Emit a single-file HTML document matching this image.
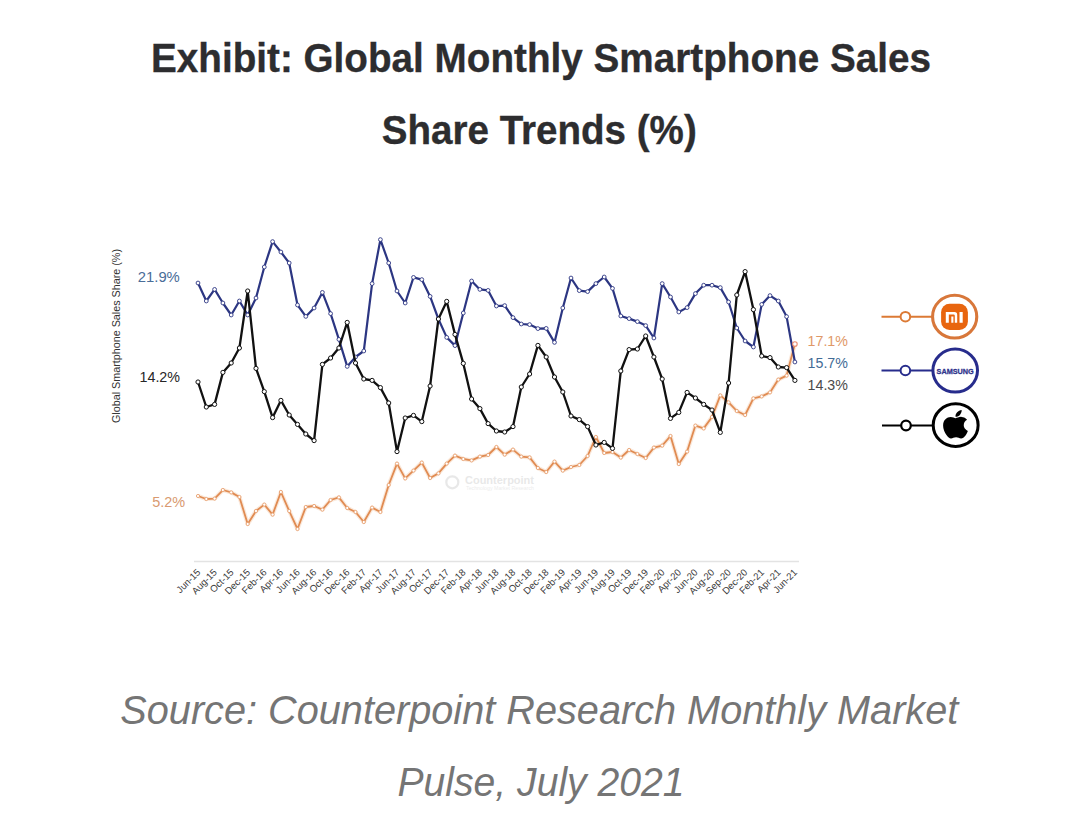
<!DOCTYPE html>
<html><head><meta charset="utf-8"><style>
html,body{margin:0;padding:0;background:#fff;width:1080px;height:820px;overflow:hidden}
svg{display:block}
</style></head><body>
<svg width="1080" height="820" viewBox="0 0 1080 820">
<g font-family="Liberation Sans, sans-serif" fill="#2d2d2f" stroke="#2d2d2f" stroke-width="0.35" font-weight="bold" font-size="41.5" text-anchor="middle">
<text x="541" y="71.5" textLength="780" lengthAdjust="spacingAndGlyphs">Exhibit: Global Monthly Smartphone Sales</text>
<text x="539.25" y="143.7" textLength="315" lengthAdjust="spacingAndGlyphs">Share Trends (%)</text>
</g>
<g font-family="Liberation Sans, sans-serif" fill="#757575" font-style="italic" font-size="40.5" text-anchor="middle">
<text x="539.3" y="723.5" textLength="838" lengthAdjust="spacingAndGlyphs">Source: Counterpoint Research Monthly Market</text>
<text x="541" y="796.3" textLength="287" lengthAdjust="spacingAndGlyphs">Pulse, July 2021</text>
</g>
<line x1="194" y1="561.5" x2="799" y2="561.5" stroke="#e3e3e3" stroke-width="1.5"/>
<g font-family="Liberation Sans, sans-serif" fill="#3a3a3a" font-size="9.6"><text x="201.0" y="573" transform="rotate(-45 201.0 573)" text-anchor="end">Jun-15</text><text x="217.6" y="573" transform="rotate(-45 217.6 573)" text-anchor="end">Aug-15</text><text x="234.2" y="573" transform="rotate(-45 234.2 573)" text-anchor="end">Oct-15</text><text x="250.7" y="573" transform="rotate(-45 250.7 573)" text-anchor="end">Dec-15</text><text x="267.3" y="573" transform="rotate(-45 267.3 573)" text-anchor="end">Feb-16</text><text x="283.9" y="573" transform="rotate(-45 283.9 573)" text-anchor="end">Apr-16</text><text x="300.5" y="573" transform="rotate(-45 300.5 573)" text-anchor="end">Jun-16</text><text x="317.1" y="573" transform="rotate(-45 317.1 573)" text-anchor="end">Aug-16</text><text x="333.6" y="573" transform="rotate(-45 333.6 573)" text-anchor="end">Oct-16</text><text x="350.2" y="573" transform="rotate(-45 350.2 573)" text-anchor="end">Dec-16</text><text x="366.8" y="573" transform="rotate(-45 366.8 573)" text-anchor="end">Feb-17</text><text x="383.4" y="573" transform="rotate(-45 383.4 573)" text-anchor="end">Apr-17</text><text x="400.0" y="573" transform="rotate(-45 400.0 573)" text-anchor="end">Jun-17</text><text x="416.5" y="573" transform="rotate(-45 416.5 573)" text-anchor="end">Aug-17</text><text x="433.1" y="573" transform="rotate(-45 433.1 573)" text-anchor="end">Oct-17</text><text x="449.7" y="573" transform="rotate(-45 449.7 573)" text-anchor="end">Dec-17</text><text x="466.3" y="573" transform="rotate(-45 466.3 573)" text-anchor="end">Feb-18</text><text x="482.9" y="573" transform="rotate(-45 482.9 573)" text-anchor="end">Apr-18</text><text x="499.4" y="573" transform="rotate(-45 499.4 573)" text-anchor="end">Jun-18</text><text x="516.0" y="573" transform="rotate(-45 516.0 573)" text-anchor="end">Aug-18</text><text x="532.6" y="573" transform="rotate(-45 532.6 573)" text-anchor="end">Oct-18</text><text x="549.2" y="573" transform="rotate(-45 549.2 573)" text-anchor="end">Dec-18</text><text x="565.8" y="573" transform="rotate(-45 565.8 573)" text-anchor="end">Feb-19</text><text x="582.3" y="573" transform="rotate(-45 582.3 573)" text-anchor="end">Apr-19</text><text x="598.9" y="573" transform="rotate(-45 598.9 573)" text-anchor="end">Jun-19</text><text x="615.5" y="573" transform="rotate(-45 615.5 573)" text-anchor="end">Aug-19</text><text x="632.1" y="573" transform="rotate(-45 632.1 573)" text-anchor="end">Oct-19</text><text x="648.7" y="573" transform="rotate(-45 648.7 573)" text-anchor="end">Dec-19</text><text x="665.2" y="573" transform="rotate(-45 665.2 573)" text-anchor="end">Feb-20</text><text x="681.8" y="573" transform="rotate(-45 681.8 573)" text-anchor="end">Apr-20</text><text x="698.4" y="573" transform="rotate(-45 698.4 573)" text-anchor="end">Jun-20</text><text x="715.0" y="573" transform="rotate(-45 715.0 573)" text-anchor="end">Aug-20</text><text x="731.6" y="573" transform="rotate(-45 731.6 573)" text-anchor="end">Sep-20</text><text x="748.1" y="573" transform="rotate(-45 748.1 573)" text-anchor="end">Dec-20</text><text x="764.7" y="573" transform="rotate(-45 764.7 573)" text-anchor="end">Feb-21</text><text x="781.3" y="573" transform="rotate(-45 781.3 573)" text-anchor="end">Apr-21</text><text x="797.9" y="573" transform="rotate(-45 797.9 573)" text-anchor="end">Jun-21</text></g>
<text x="0" y="0" transform="translate(120 336) rotate(-90)" font-family="Liberation Sans, sans-serif" font-size="10" fill="#333" text-anchor="middle" textLength="174" lengthAdjust="spacingAndGlyphs">Global Smartphone Sales Share (%)</text>
<g font-family="Liberation Sans, sans-serif" font-size="15.2">
<text x="137.8" y="282.3" fill="#4a6d98" textLength="42" lengthAdjust="spacingAndGlyphs">21.9%</text>
<text x="139.5" y="381.7" fill="#262626" textLength="40.5" lengthAdjust="spacingAndGlyphs">14.2%</text>
<text x="152.2" y="506.8" fill="#d99a70" textLength="33" lengthAdjust="spacingAndGlyphs">5.2%</text>
<text x="807.6" y="345.5" fill="#df9868" textLength="40.3" lengthAdjust="spacingAndGlyphs">17.1%</text>
<text x="807.6" y="367.6" fill="#426b96" textLength="40.3" lengthAdjust="spacingAndGlyphs">15.7%</text>
<text x="807.6" y="390.2" fill="#4a4a4a" textLength="40.3" lengthAdjust="spacingAndGlyphs">14.3%</text>
</g>
<g opacity="0.22">
<circle cx="452.3" cy="482.3" r="6" fill="none" stroke="#999" stroke-width="2.2"/>
<text x="465" y="484" font-family="Liberation Sans, sans-serif" font-weight="bold" font-size="10" fill="#999" textLength="69" lengthAdjust="spacingAndGlyphs">Counterpoint</text>
<text x="466" y="490" font-family="Liberation Sans, sans-serif" font-size="4.5" fill="#aaa" textLength="68" lengthAdjust="spacingAndGlyphs">Technology Market Research</text>
</g>
<polyline points="198.0,496.0 206.3,499.0 214.6,498.6 222.9,490.0 231.2,492.4 239.4,497.0 247.7,524.0 256.0,511.0 264.3,504.6 272.6,514.6 280.9,492.0 289.2,511.0 297.5,529.0 305.8,507.0 314.1,506.0 322.4,509.6 330.6,500.0 338.9,497.4 347.2,508.0 355.5,512.0 363.8,522.0 372.1,507.6 380.4,512.0 388.7,485.0 397.0,463.6 405.2,478.4 413.5,470.6 421.8,462.6 430.1,478.0 438.4,473.4 446.7,463.6 455.0,455.6 463.3,459.0 471.6,460.4 479.9,456.6 488.1,455.0 496.4,447.0 504.7,454.6 513.0,449.6 521.3,456.6 529.6,457.4 537.9,468.0 546.2,472.0 554.5,461.6 562.8,470.6 571.0,467.0 579.3,465.0 587.6,456.0 595.9,437.0 604.2,453.0 612.5,452.0 620.8,457.6 629.1,450.0 637.4,454.0 645.7,458.0 653.9,447.6 662.2,445.6 670.5,436.0 678.8,464.0 687.1,451.6 695.4,425.6 703.7,428.4 712.0,417.0 720.3,395.4 728.6,402.4 736.8,411.0 745.1,415.0 753.4,398.4 761.7,396.4 770.0,392.4 778.3,379.6 786.6,375.6 794.9,344.0" fill="none" stroke="#f5d2b5" stroke-width="4.2" stroke-linejoin="round" opacity="0.5"/>
<polyline points="198.0,496.0 206.3,499.0 214.6,498.6 222.9,490.0 231.2,492.4 239.4,497.0 247.7,524.0 256.0,511.0 264.3,504.6 272.6,514.6 280.9,492.0 289.2,511.0 297.5,529.0 305.8,507.0 314.1,506.0 322.4,509.6 330.6,500.0 338.9,497.4 347.2,508.0 355.5,512.0 363.8,522.0 372.1,507.6 380.4,512.0 388.7,485.0 397.0,463.6 405.2,478.4 413.5,470.6 421.8,462.6 430.1,478.0 438.4,473.4 446.7,463.6 455.0,455.6 463.3,459.0 471.6,460.4 479.9,456.6 488.1,455.0 496.4,447.0 504.7,454.6 513.0,449.6 521.3,456.6 529.6,457.4 537.9,468.0 546.2,472.0 554.5,461.6 562.8,470.6 571.0,467.0 579.3,465.0 587.6,456.0 595.9,437.0 604.2,453.0 612.5,452.0 620.8,457.6 629.1,450.0 637.4,454.0 645.7,458.0 653.9,447.6 662.2,445.6 670.5,436.0 678.8,464.0 687.1,451.6 695.4,425.6 703.7,428.4 712.0,417.0 720.3,395.4 728.6,402.4 736.8,411.0 745.1,415.0 753.4,398.4 761.7,396.4 770.0,392.4 778.3,379.6 786.6,375.6 794.9,344.0" fill="none" stroke="#e08b52" stroke-width="1.8" stroke-linejoin="round"/>
<g fill="#fff" stroke="#e8a070" stroke-width="0.9"><circle cx="198.0" cy="496.0" r="1.6"/><circle cx="206.3" cy="499.0" r="1.6"/><circle cx="214.6" cy="498.6" r="1.6"/><circle cx="222.9" cy="490.0" r="1.6"/><circle cx="231.2" cy="492.4" r="1.6"/><circle cx="239.4" cy="497.0" r="1.6"/><circle cx="247.7" cy="524.0" r="1.6"/><circle cx="256.0" cy="511.0" r="1.6"/><circle cx="264.3" cy="504.6" r="1.6"/><circle cx="272.6" cy="514.6" r="1.6"/><circle cx="280.9" cy="492.0" r="1.6"/><circle cx="289.2" cy="511.0" r="1.6"/><circle cx="297.5" cy="529.0" r="1.6"/><circle cx="305.8" cy="507.0" r="1.6"/><circle cx="314.1" cy="506.0" r="1.6"/><circle cx="322.4" cy="509.6" r="1.6"/><circle cx="330.6" cy="500.0" r="1.6"/><circle cx="338.9" cy="497.4" r="1.6"/><circle cx="347.2" cy="508.0" r="1.6"/><circle cx="355.5" cy="512.0" r="1.6"/><circle cx="363.8" cy="522.0" r="1.6"/><circle cx="372.1" cy="507.6" r="1.6"/><circle cx="380.4" cy="512.0" r="1.6"/><circle cx="388.7" cy="485.0" r="1.6"/><circle cx="397.0" cy="463.6" r="1.6"/><circle cx="405.2" cy="478.4" r="1.6"/><circle cx="413.5" cy="470.6" r="1.6"/><circle cx="421.8" cy="462.6" r="1.6"/><circle cx="430.1" cy="478.0" r="1.6"/><circle cx="438.4" cy="473.4" r="1.6"/><circle cx="446.7" cy="463.6" r="1.6"/><circle cx="455.0" cy="455.6" r="1.6"/><circle cx="463.3" cy="459.0" r="1.6"/><circle cx="471.6" cy="460.4" r="1.6"/><circle cx="479.9" cy="456.6" r="1.6"/><circle cx="488.1" cy="455.0" r="1.6"/><circle cx="496.4" cy="447.0" r="1.6"/><circle cx="504.7" cy="454.6" r="1.6"/><circle cx="513.0" cy="449.6" r="1.6"/><circle cx="521.3" cy="456.6" r="1.6"/><circle cx="529.6" cy="457.4" r="1.6"/><circle cx="537.9" cy="468.0" r="1.6"/><circle cx="546.2" cy="472.0" r="1.6"/><circle cx="554.5" cy="461.6" r="1.6"/><circle cx="562.8" cy="470.6" r="1.6"/><circle cx="571.0" cy="467.0" r="1.6"/><circle cx="579.3" cy="465.0" r="1.6"/><circle cx="587.6" cy="456.0" r="1.6"/><circle cx="595.9" cy="437.0" r="1.6"/><circle cx="604.2" cy="453.0" r="1.6"/><circle cx="612.5" cy="452.0" r="1.6"/><circle cx="620.8" cy="457.6" r="1.6"/><circle cx="629.1" cy="450.0" r="1.6"/><circle cx="637.4" cy="454.0" r="1.6"/><circle cx="645.7" cy="458.0" r="1.6"/><circle cx="653.9" cy="447.6" r="1.6"/><circle cx="662.2" cy="445.6" r="1.6"/><circle cx="670.5" cy="436.0" r="1.6"/><circle cx="678.8" cy="464.0" r="1.6"/><circle cx="687.1" cy="451.6" r="1.6"/><circle cx="695.4" cy="425.6" r="1.6"/><circle cx="703.7" cy="428.4" r="1.6"/><circle cx="712.0" cy="417.0" r="1.6"/><circle cx="720.3" cy="395.4" r="1.6"/><circle cx="728.6" cy="402.4" r="1.6"/><circle cx="736.8" cy="411.0" r="1.6"/><circle cx="745.1" cy="415.0" r="1.6"/><circle cx="753.4" cy="398.4" r="1.6"/><circle cx="761.7" cy="396.4" r="1.6"/><circle cx="770.0" cy="392.4" r="1.6"/><circle cx="778.3" cy="379.6" r="1.6"/><circle cx="786.6" cy="375.6" r="1.6"/><circle cx="794.9" cy="344.0" r="1.6"/></g>
<polyline points="198.0,283.0 206.3,301.0 214.6,289.4 222.9,303.0 231.2,315.0 239.4,301.0 247.7,315.0 256.0,298.0 264.3,267.0 272.6,241.6 280.9,252.0 289.2,263.0 297.5,305.0 305.8,316.4 314.1,308.0 322.4,292.4 330.6,313.6 338.9,339.4 347.2,366.4 355.5,357.0 363.8,351.0 372.1,283.6 380.4,239.6 388.7,263.0 397.0,291.0 405.2,303.0 413.5,277.4 421.8,279.6 430.1,296.4 438.4,319.0 446.7,337.4 455.0,345.6 463.3,313.0 471.6,281.0 479.9,289.4 488.1,290.4 496.4,306.0 504.7,305.6 513.0,317.6 521.3,324.0 529.6,324.6 537.9,328.6 546.2,328.4 554.5,342.4 562.8,308.0 571.0,278.0 579.3,290.6 587.6,291.6 595.9,283.6 604.2,277.0 612.5,288.4 620.8,316.0 629.1,318.6 637.4,321.6 645.7,325.6 653.9,338.0 662.2,283.6 670.5,297.0 678.8,312.0 687.1,307.6 695.4,293.6 703.7,285.2 712.0,285.2 720.3,287.6 728.6,302.0 736.8,328.0 745.1,341.0 753.4,347.0 761.7,304.4 770.0,295.6 778.3,301.0 786.6,316.6 794.9,362.0" fill="none" stroke="#2c3682" stroke-width="2.2" stroke-linejoin="round"/>
<circle cx="794.9" cy="344" r="2.3" fill="#fff" stroke="#e98a6e" stroke-width="1.1"/>
<g fill="#fff" stroke="#2c3682" stroke-width="0.9"><circle cx="198.0" cy="283.0" r="1.9"/><circle cx="206.3" cy="301.0" r="1.9"/><circle cx="214.6" cy="289.4" r="1.9"/><circle cx="222.9" cy="303.0" r="1.9"/><circle cx="231.2" cy="315.0" r="1.9"/><circle cx="239.4" cy="301.0" r="1.9"/><circle cx="247.7" cy="315.0" r="1.9"/><circle cx="256.0" cy="298.0" r="1.9"/><circle cx="264.3" cy="267.0" r="1.9"/><circle cx="272.6" cy="241.6" r="1.9"/><circle cx="280.9" cy="252.0" r="1.9"/><circle cx="289.2" cy="263.0" r="1.9"/><circle cx="297.5" cy="305.0" r="1.9"/><circle cx="305.8" cy="316.4" r="1.9"/><circle cx="314.1" cy="308.0" r="1.9"/><circle cx="322.4" cy="292.4" r="1.9"/><circle cx="330.6" cy="313.6" r="1.9"/><circle cx="338.9" cy="339.4" r="1.9"/><circle cx="347.2" cy="366.4" r="1.9"/><circle cx="355.5" cy="357.0" r="1.9"/><circle cx="363.8" cy="351.0" r="1.9"/><circle cx="372.1" cy="283.6" r="1.9"/><circle cx="380.4" cy="239.6" r="1.9"/><circle cx="388.7" cy="263.0" r="1.9"/><circle cx="397.0" cy="291.0" r="1.9"/><circle cx="405.2" cy="303.0" r="1.9"/><circle cx="413.5" cy="277.4" r="1.9"/><circle cx="421.8" cy="279.6" r="1.9"/><circle cx="430.1" cy="296.4" r="1.9"/><circle cx="438.4" cy="319.0" r="1.9"/><circle cx="446.7" cy="337.4" r="1.9"/><circle cx="455.0" cy="345.6" r="1.9"/><circle cx="463.3" cy="313.0" r="1.9"/><circle cx="471.6" cy="281.0" r="1.9"/><circle cx="479.9" cy="289.4" r="1.9"/><circle cx="488.1" cy="290.4" r="1.9"/><circle cx="496.4" cy="306.0" r="1.9"/><circle cx="504.7" cy="305.6" r="1.9"/><circle cx="513.0" cy="317.6" r="1.9"/><circle cx="521.3" cy="324.0" r="1.9"/><circle cx="529.6" cy="324.6" r="1.9"/><circle cx="537.9" cy="328.6" r="1.9"/><circle cx="546.2" cy="328.4" r="1.9"/><circle cx="554.5" cy="342.4" r="1.9"/><circle cx="562.8" cy="308.0" r="1.9"/><circle cx="571.0" cy="278.0" r="1.9"/><circle cx="579.3" cy="290.6" r="1.9"/><circle cx="587.6" cy="291.6" r="1.9"/><circle cx="595.9" cy="283.6" r="1.9"/><circle cx="604.2" cy="277.0" r="1.9"/><circle cx="612.5" cy="288.4" r="1.9"/><circle cx="620.8" cy="316.0" r="1.9"/><circle cx="629.1" cy="318.6" r="1.9"/><circle cx="637.4" cy="321.6" r="1.9"/><circle cx="645.7" cy="325.6" r="1.9"/><circle cx="653.9" cy="338.0" r="1.9"/><circle cx="662.2" cy="283.6" r="1.9"/><circle cx="670.5" cy="297.0" r="1.9"/><circle cx="678.8" cy="312.0" r="1.9"/><circle cx="687.1" cy="307.6" r="1.9"/><circle cx="695.4" cy="293.6" r="1.9"/><circle cx="703.7" cy="285.2" r="1.9"/><circle cx="712.0" cy="285.2" r="1.9"/><circle cx="720.3" cy="287.6" r="1.9"/><circle cx="728.6" cy="302.0" r="1.9"/><circle cx="736.8" cy="328.0" r="1.9"/><circle cx="745.1" cy="341.0" r="1.9"/><circle cx="753.4" cy="347.0" r="1.9"/><circle cx="761.7" cy="304.4" r="1.9"/><circle cx="770.0" cy="295.6" r="1.9"/><circle cx="778.3" cy="301.0" r="1.9"/><circle cx="786.6" cy="316.6" r="1.9"/><circle cx="794.9" cy="362.0" r="1.9"/></g>
<polyline points="198.0,382.0 206.3,407.0 214.6,404.4 222.9,372.4 231.2,363.0 239.4,348.0 247.7,291.0 256.0,368.4 264.3,391.6 272.6,417.6 280.9,400.4 289.2,415.0 297.5,424.4 305.8,434.0 314.1,440.6 322.4,364.4 330.6,358.0 338.9,348.0 347.2,322.4 355.5,363.0 363.8,379.0 372.1,380.4 380.4,387.6 388.7,403.0 397.0,451.6 405.2,418.0 413.5,415.4 421.8,421.6 430.1,386.0 438.4,319.0 446.7,301.4 455.0,334.4 463.3,363.4 471.6,399.0 479.9,408.6 488.1,423.6 496.4,431.0 504.7,432.0 513.0,426.6 521.3,387.0 529.6,374.0 537.9,345.4 546.2,357.0 554.5,377.0 562.8,392.0 571.0,416.0 579.3,419.6 587.6,426.6 595.9,445.0 604.2,442.4 612.5,448.4 620.8,371.0 629.1,349.6 637.4,349.0 645.7,336.0 653.9,357.0 662.2,379.0 670.5,418.4 678.8,412.4 687.1,392.4 695.4,398.0 703.7,404.4 712.0,410.0 720.3,432.4 728.6,383.0 736.8,295.0 745.1,271.6 753.4,309.6 761.7,356.0 770.0,357.6 778.3,367.0 786.6,367.6 794.9,380.4" fill="none" stroke="#111" stroke-width="2.3" stroke-linejoin="round"/>
<g fill="#fff" stroke="#111" stroke-width="1"><circle cx="198.0" cy="382.0" r="2.1"/><circle cx="206.3" cy="407.0" r="2.1"/><circle cx="214.6" cy="404.4" r="2.1"/><circle cx="222.9" cy="372.4" r="2.1"/><circle cx="231.2" cy="363.0" r="2.1"/><circle cx="239.4" cy="348.0" r="2.1"/><circle cx="247.7" cy="291.0" r="2.1"/><circle cx="256.0" cy="368.4" r="2.1"/><circle cx="264.3" cy="391.6" r="2.1"/><circle cx="272.6" cy="417.6" r="2.1"/><circle cx="280.9" cy="400.4" r="2.1"/><circle cx="289.2" cy="415.0" r="2.1"/><circle cx="297.5" cy="424.4" r="2.1"/><circle cx="305.8" cy="434.0" r="2.1"/><circle cx="314.1" cy="440.6" r="2.1"/><circle cx="322.4" cy="364.4" r="2.1"/><circle cx="330.6" cy="358.0" r="2.1"/><circle cx="338.9" cy="348.0" r="2.1"/><circle cx="347.2" cy="322.4" r="2.1"/><circle cx="355.5" cy="363.0" r="2.1"/><circle cx="363.8" cy="379.0" r="2.1"/><circle cx="372.1" cy="380.4" r="2.1"/><circle cx="380.4" cy="387.6" r="2.1"/><circle cx="388.7" cy="403.0" r="2.1"/><circle cx="397.0" cy="451.6" r="2.1"/><circle cx="405.2" cy="418.0" r="2.1"/><circle cx="413.5" cy="415.4" r="2.1"/><circle cx="421.8" cy="421.6" r="2.1"/><circle cx="430.1" cy="386.0" r="2.1"/><circle cx="438.4" cy="319.0" r="2.1"/><circle cx="446.7" cy="301.4" r="2.1"/><circle cx="455.0" cy="334.4" r="2.1"/><circle cx="463.3" cy="363.4" r="2.1"/><circle cx="471.6" cy="399.0" r="2.1"/><circle cx="479.9" cy="408.6" r="2.1"/><circle cx="488.1" cy="423.6" r="2.1"/><circle cx="496.4" cy="431.0" r="2.1"/><circle cx="504.7" cy="432.0" r="2.1"/><circle cx="513.0" cy="426.6" r="2.1"/><circle cx="521.3" cy="387.0" r="2.1"/><circle cx="529.6" cy="374.0" r="2.1"/><circle cx="537.9" cy="345.4" r="2.1"/><circle cx="546.2" cy="357.0" r="2.1"/><circle cx="554.5" cy="377.0" r="2.1"/><circle cx="562.8" cy="392.0" r="2.1"/><circle cx="571.0" cy="416.0" r="2.1"/><circle cx="579.3" cy="419.6" r="2.1"/><circle cx="587.6" cy="426.6" r="2.1"/><circle cx="595.9" cy="445.0" r="2.1"/><circle cx="604.2" cy="442.4" r="2.1"/><circle cx="612.5" cy="448.4" r="2.1"/><circle cx="620.8" cy="371.0" r="2.1"/><circle cx="629.1" cy="349.6" r="2.1"/><circle cx="637.4" cy="349.0" r="2.1"/><circle cx="645.7" cy="336.0" r="2.1"/><circle cx="653.9" cy="357.0" r="2.1"/><circle cx="662.2" cy="379.0" r="2.1"/><circle cx="670.5" cy="418.4" r="2.1"/><circle cx="678.8" cy="412.4" r="2.1"/><circle cx="687.1" cy="392.4" r="2.1"/><circle cx="695.4" cy="398.0" r="2.1"/><circle cx="703.7" cy="404.4" r="2.1"/><circle cx="712.0" cy="410.0" r="2.1"/><circle cx="720.3" cy="432.4" r="2.1"/><circle cx="728.6" cy="383.0" r="2.1"/><circle cx="736.8" cy="295.0" r="2.1"/><circle cx="745.1" cy="271.6" r="2.1"/><circle cx="753.4" cy="309.6" r="2.1"/><circle cx="761.7" cy="356.0" r="2.1"/><circle cx="770.0" cy="357.6" r="2.1"/><circle cx="778.3" cy="367.0" r="2.1"/><circle cx="786.6" cy="367.6" r="2.1"/><circle cx="794.9" cy="380.4" r="2.1"/></g>
<!-- legend -->
<g fill="none">
<line x1="881.5" y1="316.7" x2="932" y2="316.7" stroke="#dc7a35" stroke-width="2"/>
<circle cx="905.4" cy="316.7" r="4.8" fill="#fff" stroke="#dc7a35" stroke-width="2"/>
<ellipse cx="954.66" cy="316.64" rx="22.1" ry="21.4" stroke="#d8773a" stroke-width="3.1" fill="#fff"/>
<rect x="941.1" y="303.7" width="26.8" height="26.2" rx="8.5" fill="#e8650f" stroke="none"/>
<line x1="881.5" y1="370.5" x2="932" y2="370.5" stroke="#272c8c" stroke-width="2"/>
<circle cx="905.4" cy="370.5" r="4.8" fill="#fff" stroke="#272c8c" stroke-width="2"/>
<ellipse cx="955.2" cy="370.6" rx="22.3" ry="21.5" stroke="#272c8c" stroke-width="3" fill="#fff"/>
<line x1="882" y1="425.5" x2="932" y2="425.5" stroke="#000" stroke-width="2.2"/>
<circle cx="906" cy="425.5" r="4.8" fill="#fff" stroke="#000" stroke-width="2.2"/>
<ellipse cx="955.66" cy="425.14" rx="22.45" ry="21.3" stroke="#000" stroke-width="3" fill="#fff"/>
</g>
<path fill="#fff" d="M945.8 322.8 V312.1 H954.5 a2.7 2.7 0 0 1 2.7 2.7 V322.8 H954.8 V315.8 a1.2 1.2 0 0 0 -1.2 -1.2 H948.8 V322.8 Z M951.3 316.6 H953.4 V322.8 H951.3 Z M959.5 312.1 H962.7 V322.8 H959.5 Z"/>
<text x="955.2" y="374.2" font-family="Liberation Sans, sans-serif" font-weight="bold" font-size="7.6" fill="#2f348c" stroke="#2f348c" stroke-width="0.3" text-anchor="middle" textLength="37.2" lengthAdjust="spacingAndGlyphs">SAMSUNG</text>
<path fill="#000" transform="translate(942.84 408.07) scale(0.0657 0.0633)" d="M318.7 268.7c-.2-36.7 16.4-64.4 50-84.8-18.8-26.9-47.2-41.7-84.7-44.6-35.5-2.8-74.3 20.7-88.5 20.7-15 0-49.4-19.7-76.4-19.7C63.3 141.2 4 184.8 4 273.5q0 39.3 14.4 81.2c12.8 36.7 59 126.7 107.2 125.2 25.2-.6 43-17.9 75.8-17.9 31.8 0 48.3 17.900 76.4 17.9 48.6-.7 90.4-82.5 102.6-119.3-65.2-30.7-61.7-90-61.7-91.9zm-56.6-164.2c27.3-32.4 24.8-61.9 24-72.5-24.1 1.4-52 16.4-67.9 34.9-17.5 19.8-27.8 44.3-25.4 71.9 26.1 2 49.9-11.4 69.3-34.3z"/>
</svg>
</body></html>
